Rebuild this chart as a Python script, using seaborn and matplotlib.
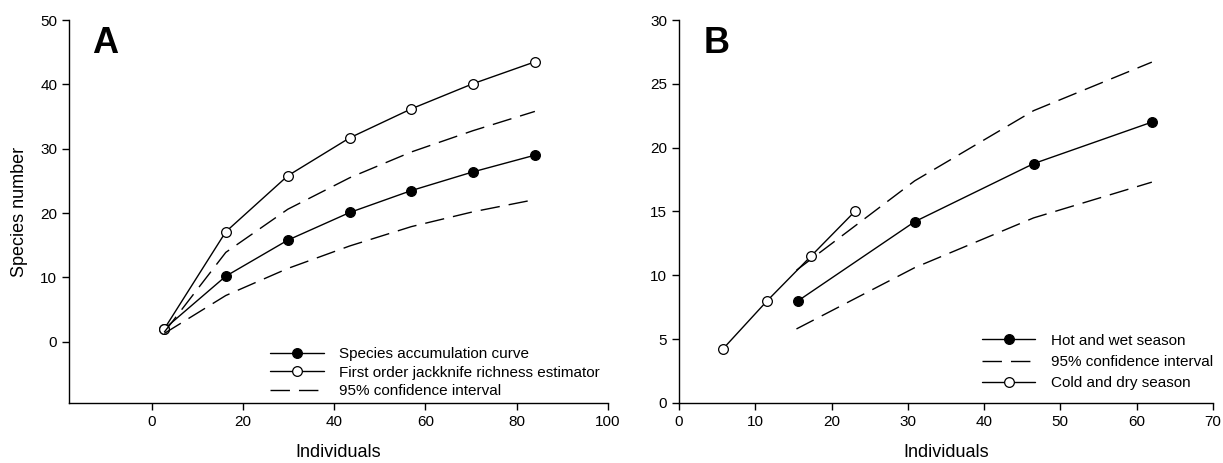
import matplotlib
matplotlib.use("Agg")
import matplotlib.pyplot as plt
import pandas as pd
import seaborn as sns

# ---------------------------
# DATA
# ---------------------------

# Panel A
a_individuals = [2.7, 16.2, 29.8, 43.4, 56.9, 70.4, 84.0]
a_accumulation = [2.0, 10.2, 15.8, 20.1, 23.5, 26.4, 29.0]
a_jackknife = [2.0, 17.1, 25.8, 31.7, 36.2, 40.1, 43.5]
a_ci_upper = [1.5, 13.9, 20.6, 25.5, 29.5, 32.8, 35.8]
a_ci_lower = [1.3, 7.2, 11.4, 14.9, 17.9, 20.2, 22.1]

# Panel B
b_hot_x = [15.6, 30.9, 46.5, 62.0]
b_hot_y = [8.0, 14.2, 18.75, 22.0]
b_ci_x = [15.4, 30.9, 46.5, 62.0]
b_ci_upper = [10.4, 17.4, 22.9, 26.7]
b_ci_lower = [5.8, 10.6, 14.5, 17.3]
b_cold_x = [5.8, 11.55, 17.3, 23.05]
b_cold_y = [4.26, 8.0, 11.5, 15.0]

sns.set_theme(style="ticks")
plt.rcParams["font.family"] = ["Liberation Sans", "DejaVu Sans"]
plt.rcParams["text.color"] = "black"
plt.rcParams["axes.labelcolor"] = "black"

fig = plt.figure(figsize=(12.23, 4.63), dpi=100)
ax_a = fig.add_axes([0.0564, 0.1296, 0.4406, 0.8272])
ax_b = fig.add_axes([0.5552, 0.1296, 0.4365, 0.8272])

dash = (14, 6.5)


def solid_series(ax, x, y, face, label):
    df = pd.DataFrame({"x": x, "y": y})
    sns.lineplot(data=df, x="x", y="y", ax=ax, sort=False, color="black",
                 linewidth=1.0, marker="o", markersize=7,
                 markerfacecolor=face, markeredgecolor="black",
                 markeredgewidth=0.9, label=label)


def dashed_series(ax, x, y, label):
    df = pd.DataFrame({"x": x, "y": y})
    sns.lineplot(data=df, x="x", y="y", ax=ax, sort=False, color="black",
                 linewidth=1.0, label=label)
    ax.lines[-1].set_dashes(dash)


# ---- Panel A ----
solid_series(ax_a, a_individuals, a_accumulation, "black", "Species accumulation curve")
solid_series(ax_a, a_individuals, a_jackknife, "white", "First order jackknife richness estimator")
dashed_series(ax_a, a_individuals, a_ci_upper, "95% confidence interval")
dashed_series(ax_a, a_individuals, a_ci_lower, None)

ax_a.set_xlim(-18.2, 100)
ax_a.set_ylim(-9.5, 50)
ax_a.set_xticks([0, 20, 40, 60, 80, 100])
ax_a.set_yticks([0, 10, 20, 30, 40, 50])
ax_a.set_xlabel("Individuals", fontsize=13, labelpad=11)
ax_a.set_ylabel("Species number", fontsize=13, labelpad=9)
ax_a.text(0.043, 0.985, "A", transform=ax_a.transAxes, fontsize=26,
          fontweight="bold", va="top", ha="left")
h, l = ax_a.get_legend_handles_labels()
ax_a.legend(h, l, loc="lower right", bbox_to_anchor=(0.985, 0.012),
            frameon=False, fontsize=11, handlelength=3.5, handletextpad=1.0,
            labelspacing=0.31, borderaxespad=0, borderpad=0)

# ---- Panel B ----
solid_series(ax_b, b_hot_x, b_hot_y, "black", "Hot and wet season")
dashed_series(ax_b, b_ci_x, b_ci_upper, "95% confidence interval")
dashed_series(ax_b, b_ci_x, b_ci_lower, None)
solid_series(ax_b, b_cold_x, b_cold_y, "white", "Cold and dry season")

ax_b.set_xlim(0, 70)
ax_b.set_ylim(0, 30)
ax_b.set_xticks(range(0, 71, 10))
ax_b.set_yticks(range(0, 31, 5))
ax_b.set_xlabel("Individuals", fontsize=13, labelpad=11)
ax_b.set_ylabel("")
ax_b.text(0.046, 0.985, "B", transform=ax_b.transAxes, fontsize=26,
          fontweight="bold", va="top", ha="left")
h, l = ax_b.get_legend_handles_labels()
ax_b.legend(h, l, loc="lower right", bbox_to_anchor=(1.0, 0.033),
            frameon=False, fontsize=11, handlelength=3.5, handletextpad=1.0,
            labelspacing=0.48, borderaxespad=0, borderpad=0)

for ax in (ax_a, ax_b):
    sns.despine(ax=ax)
    ax.tick_params(direction="out", length=5, width=1, labelsize=11, colors="black")
    for side in ("left", "bottom"):
        ax.spines[side].set_linewidth(1.0)
        ax.spines[side].set_color("black")

fig.savefig("out.png", dpi=100)
